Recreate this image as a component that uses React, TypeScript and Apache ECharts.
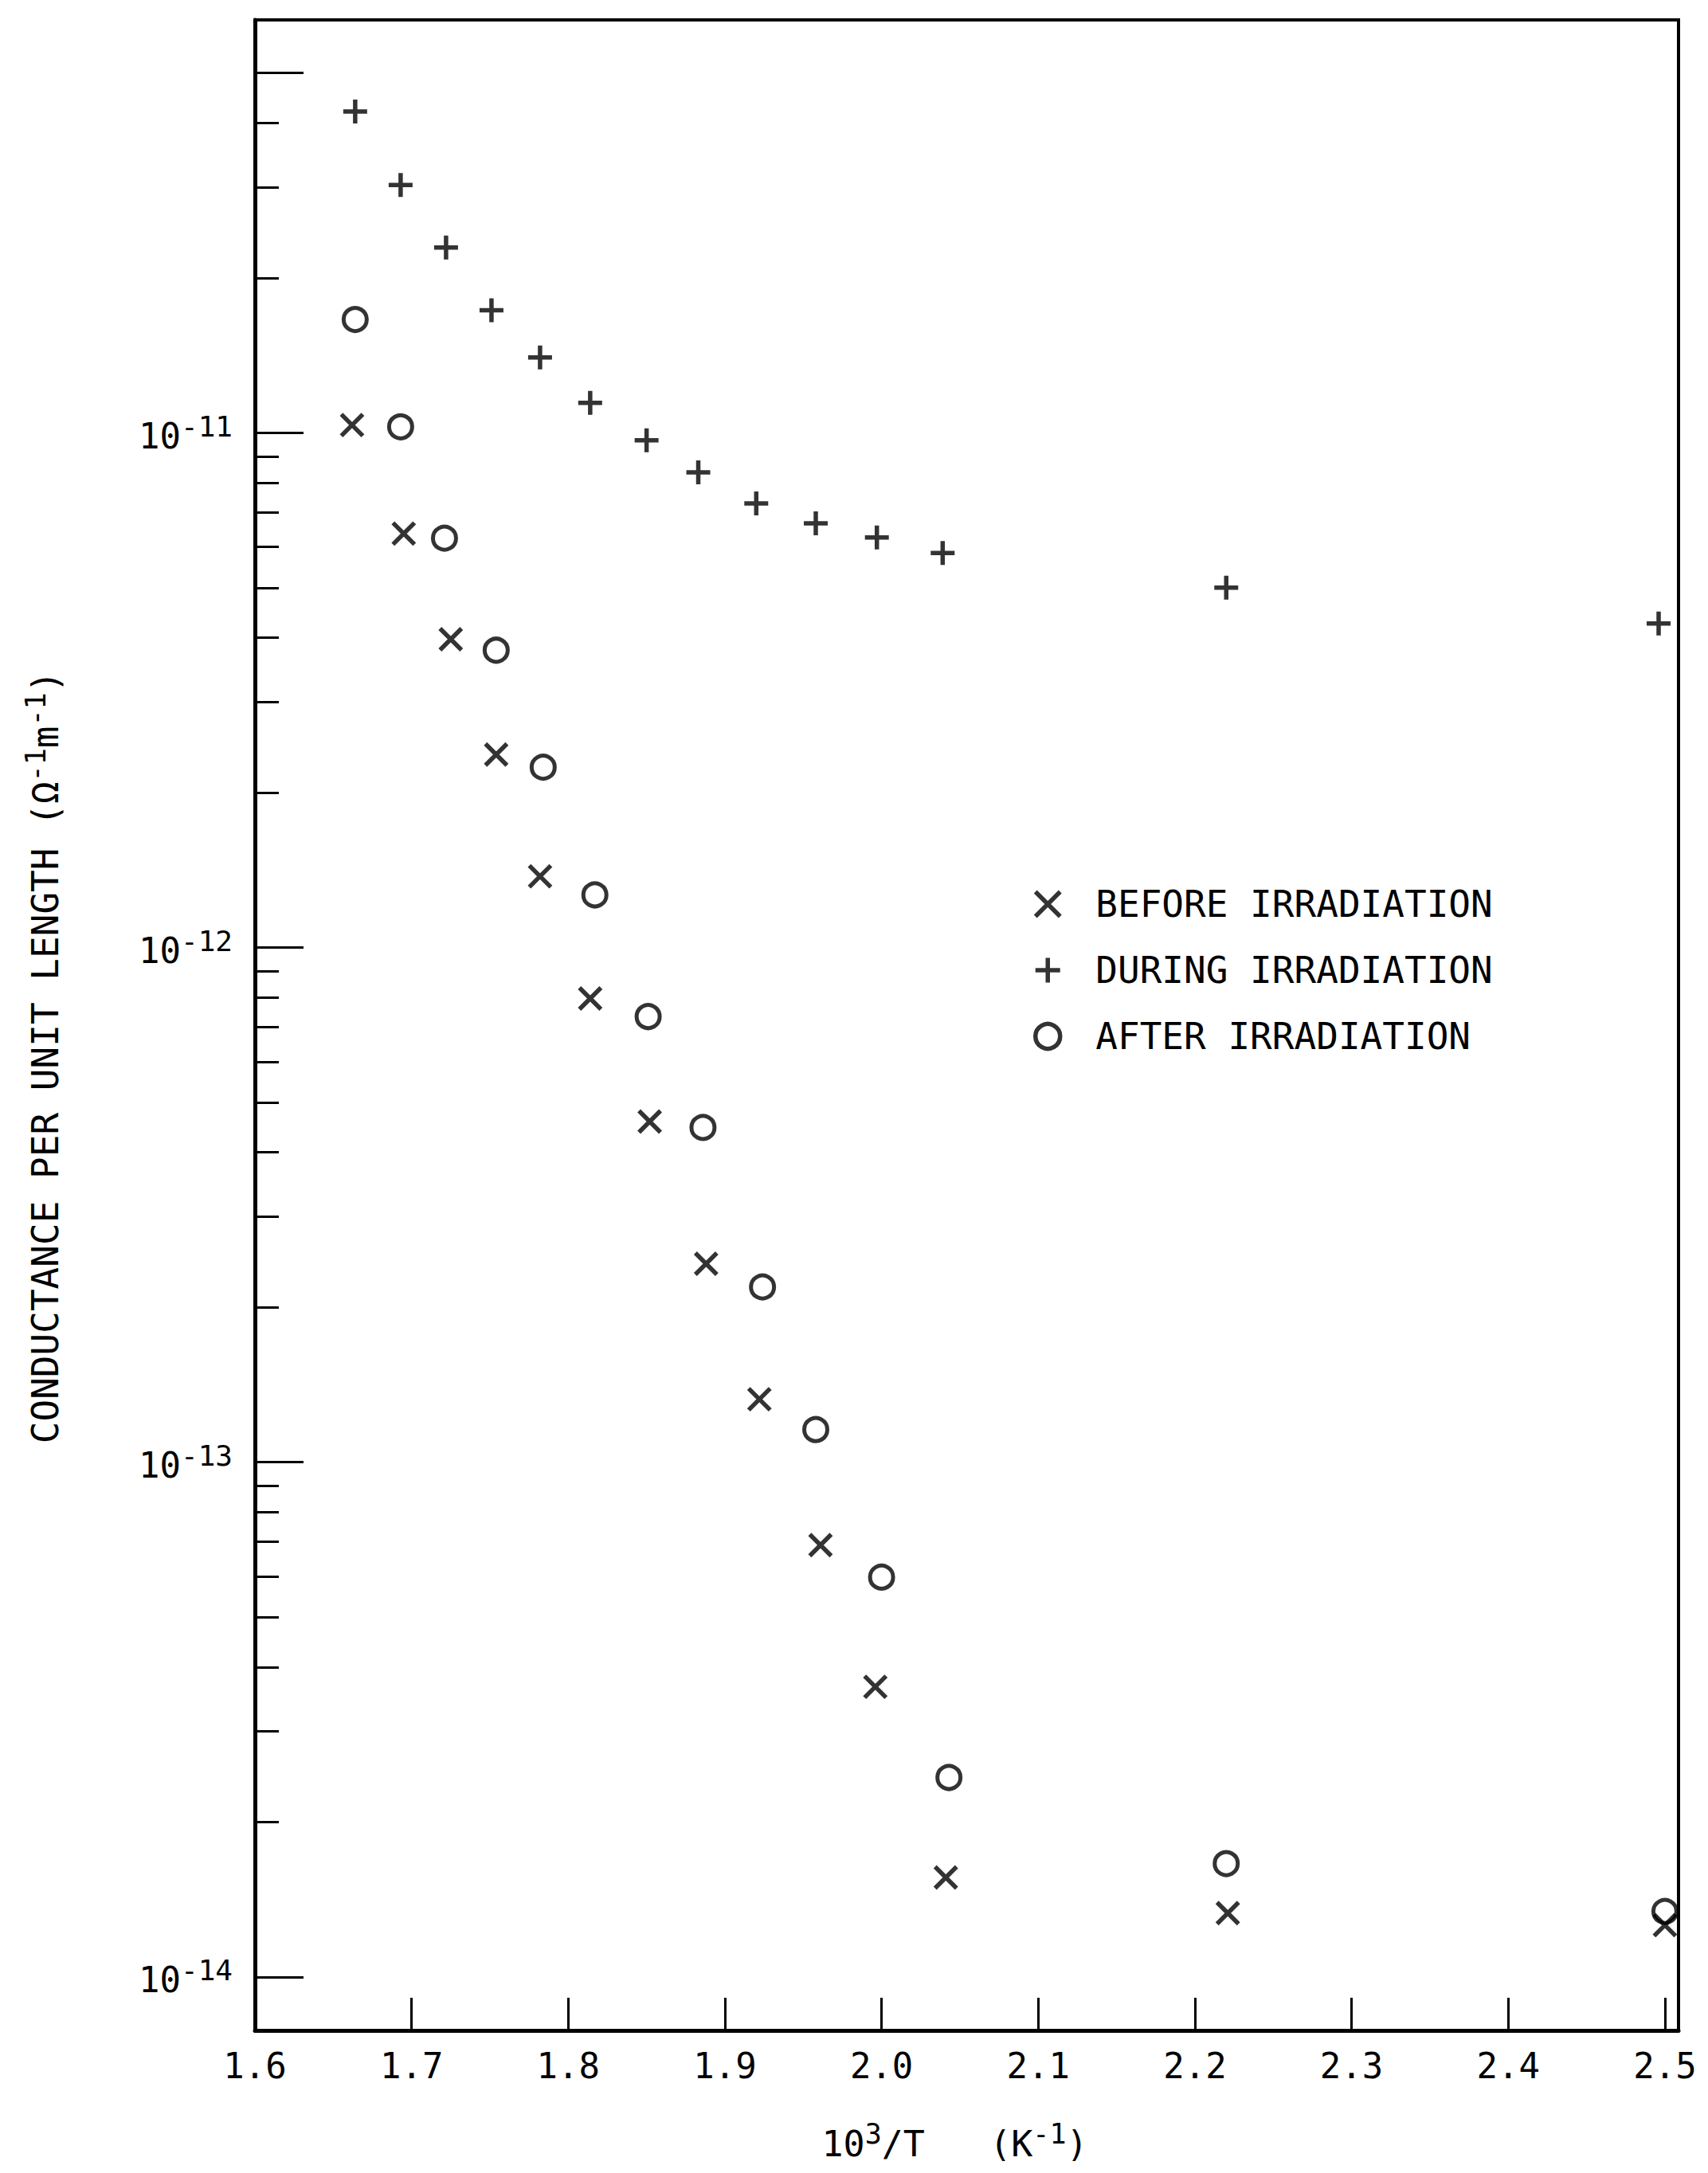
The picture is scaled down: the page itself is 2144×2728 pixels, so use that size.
import React, { useEffect, useRef } from "react";
import * as echarts from "echarts";

// ---- data ----
const xBefore = [1.662, 1.695, 1.725, 1.754, 1.782, 1.814, 1.852, 1.888, 1.922, 1.961, 1.996, 2.041, 2.221, 2.5];
const yBefore = [1.035e-11, 6.37e-12, 3.97e-12, 2.37e-12, 1.375e-12, 7.96e-13, 4.59e-13, 2.43e-13, 1.325e-13, 6.9e-14, 3.66e-14, 1.56e-14, 1.33e-14, 1.26e-14];

const xDuring = [1.664, 1.693, 1.722, 1.751, 1.782, 1.814, 1.85, 1.883, 1.92, 1.958, 1.997, 2.039, 2.22, 2.496];
const yDuring = [4.21e-11, 3.03e-11, 2.29e-11, 1.73e-11, 1.4e-11, 1.143e-11, 9.67e-12, 8.38e-12, 7.29e-12, 6.67e-12, 6.26e-12, 5.84e-12, 5.0e-12, 4.26e-12];

const xAfter = [1.664, 1.693, 1.721, 1.754, 1.784, 1.817, 1.851, 1.886, 1.924, 1.958, 2.0, 2.043, 2.22, 2.5];
const yAfter = [1.66e-11, 1.027e-11, 6.24e-12, 3.78e-12, 2.24e-12, 1.265e-12, 7.34e-13, 4.47e-13, 2.19e-13, 1.157e-13, 5.98e-14, 2.44e-14, 1.66e-14, 1.34e-14];

const seriesNames = ["BEFORE IRRADIATION", "DURING IRRADIATION", "AFTER IRRADIATION"];

// axis ticks
const yLabelTicks = [1e-14, 1e-13, 1e-12, 1e-11];
const yLongTicks = [1e-14, 1e-13, 1e-12, 1e-11, 5e-11];
const yMinorMantissas = [2, 3, 4, 5, 6, 7, 8, 9];
const yMinorDecades = [-14, -13, -12, -11];
const yMinorMax = 4.5e-11;
const xMin = 1.6;
const xMax = 2.5087;
const yMin = 7.87e-15;
const yMax = 6.34e-11;

const MONO = '"DejaVu Sans Mono", monospace';

const PLUS = "path://M5,0L5,10M0,5L10,5";
const CROSS = "path://M0,0L10,10M10,0L0,10";

function pairs(xs: number[], ys: number[]) {
  return xs.map((x, i) => [x, ys[i]]);
}

export default function App() {
  const ref = useRef<HTMLDivElement>(null);

  useEffect(() => {
    if (!ref.current) return;
    const chart = echarts.init(ref.current, null, { renderer: "svg" });

    const minorTicks: number[] = [];
    yMinorDecades.forEach((e) => {
      yMinorMantissas.forEach((m) => {
        const v = m * Math.pow(10, e);
        if (v <= yMinorMax) minorTicks.push(v);
      });
    });

    const markerStyle = (w: number) => ({
      color: "transparent",
      borderColor: "#000",
      borderWidth: w,
    });

    const supRich = {
      n: { fontFamily: MONO, fontSize: 45, color: "#000", verticalAlign: "bottom" },
      p: { fontFamily: MONO, fontSize: 35, color: "#000", verticalAlign: "bottom", padding: [0, 0, 18, 0] },
    };

    const option: any = {
      animation: false,
      backgroundColor: "#fff",
      grid: {
        left: 320,
        right: 37,
        top: 25,
        bottom: 179,
        show: true,
        borderColor: "#000",
        borderWidth: 4,
        containLabel: false,
        outerBoundsMode: "none",
      },
      legend: {
        orient: "vertical",
        left: 1292,
        top: 1104,
        itemWidth: 110,
        itemHeight: 31,
        itemGap: 31,
        selectedMode: false,
        data: seriesNames,
        itemStyle: { borderWidth: 5.5, borderColor: "#000" },
        textStyle: {
          fontFamily: MONO,
          fontSize: 46,
          color: "#000",
          lineHeight: 52,
        },
      },
      xAxis: {
        type: "value",
        min: xMin,
        max: xMax,
        interval: 0.1,
        name: "{n|10}{p|3}{n|/T   (K}{p|-1}{n|)}",
        nameLocation: "middle",
        nameGap: 112,
        nameTextStyle: {
          padding: [0, 30, 0, 0],
          rich: supRich,
        },
        axisLine: { show: true, lineStyle: { color: "#000", width: 5 } },
        axisTick: { show: true, inside: true, length: 41, lineStyle: { color: "#000", width: 3 } },
        splitLine: { show: false },
        axisLabel: {
          margin: 22,
          fontFamily: MONO,
          fontSize: 44,
          color: "#000",
          formatter: (v: number) =>
            Math.abs(v * 10 - Math.round(v * 10)) < 1e-6 && v <= 2.5001 ? v.toFixed(1) : "",
        },
      },
      yAxis: [
        {
          type: "log",
          logBase: 10,
          min: yMin,
          max: yMax,
          name: "{n|CONDUCTANCE PER UNIT LENGTH (Ω}{p|-1}{n|m}{p|-1}{n|)}",
          nameLocation: "middle",
          nameGap: 240,
          nameRotate: 90,
          nameTextStyle: {
            padding: [0, 80, 0, 0],
            rich: {
              n: { fontFamily: MONO, fontSize: 46, color: "#000", verticalAlign: "bottom" },
              p: { fontFamily: MONO, fontSize: 35, color: "#000", verticalAlign: "bottom", padding: [0, 0, 18, 0] },
            },
          },
          axisLine: { show: true, lineStyle: { color: "#000", width: 5 } },
          axisTick: {
            show: true,
            inside: true,
            length: 61,
            lineStyle: { color: "#000", width: 3 },
            customValues: yLongTicks,
          },
          splitLine: { show: false },
          axisLabel: {
            margin: 28,
            customValues: yLabelTicks,
            formatter: (v: number) => {
              const l = Math.log10(v);
              const e = Math.round(l);
              if (Math.abs(l - e) > 1e-6) return "";
              return `{b|10}{s|${e}}`;
            },
            rich: {
              b: { fontFamily: MONO, fontSize: 44, color: "#000", verticalAlign: "bottom" },
              s: { fontFamily: MONO, fontSize: 36, color: "#000", verticalAlign: "bottom", padding: [0, 0, 16, 0] },
            },
          },
        },
        {
          type: "log",
          logBase: 10,
          min: yMin,
          max: yMax,
          position: "left",
          axisLine: { show: false },
          axisLabel: { show: false },
          splitLine: { show: false },
          axisTick: {
            show: true,
            inside: true,
            length: 30,
            lineStyle: { color: "#000", width: 3 },
            customValues: minorTicks,
          },
        },
      ],
      series: [
        {
          type: "scatter",
          name: seriesNames[0],
          data: pairs(xBefore, yBefore),
          symbol: CROSS,
          symbolSize: 27,
          itemStyle: markerStyle(5.5),
          silent: true,
        },
        {
          type: "scatter",
          name: seriesNames[1],
          data: pairs(xDuring, yDuring),
          symbol: PLUS,
          symbolSize: 30,
          itemStyle: markerStyle(5.5),
          silent: true,
        },
        {
          type: "scatter",
          name: seriesNames[2],
          data: pairs(xAfter, yAfter),
          symbol: "circle",
          symbolSize: 29,
          itemStyle: markerStyle(5),
          silent: true,
        },
      ],
    };

    chart.setOption(option);
    return () => chart.dispose();
  }, []);

  return (
    <div
      ref={ref}
      style={{ position: "absolute", left: 0, top: 0, width: 2144, height: 2728, background: "#fff" }}
    />
  );
}
